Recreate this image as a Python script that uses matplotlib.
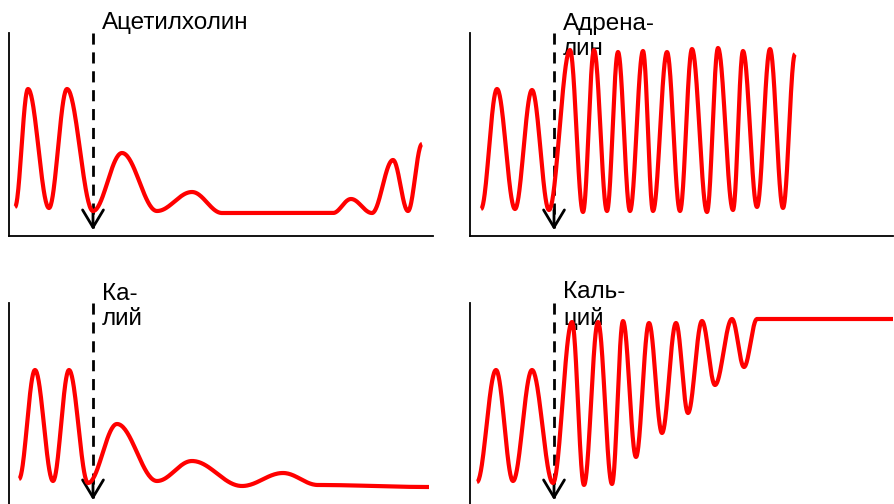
import numpy as np
import matplotlib
matplotlib.use('Agg')
import matplotlib.pyplot as plt

plt.rcParams['font.family'] = ['Liberation Sans', 'DejaVu Sans']

# extrema of each trace: time (px from the y axis) and amplitude (px above the x axis)
ach_t = [6, 19, 40, 58, 84, 113, 148, 183, 213, 324, 342, 363, 384, 399, 413]
ach_y = [29, 147, 28, 147, 25, 83, 25, 44, 23, 23, 37, 23, 76, 25, 92]

adr_t = [11, 27, 45, 62, 79, 100, 113, 124, 137, 148, 160, 173, 183, 197, 210,
         222, 237, 248, 263, 273, 287, 300, 313, 325]
adr_y = [27, 147, 27, 146, 26, 186, 24, 186, 25, 184, 25, 185, 25, 184, 25,
         187, 24, 188, 26, 185, 29, 187, 28, 182]

k_t = [10, 26, 44, 60, 79, 108, 148, 183, 233, 274, 309, 420]
k_y = [27, 136, 25, 136, 23, 82, 25, 45, 20, 33, 21, 19]

ca_t = [7, 26, 43, 62, 83, 102, 114, 128, 142, 153, 166, 179, 192, 206, 218,
        232, 245, 262, 274, 287, 423]
ca_y = [24, 136, 25, 136, 23, 184, 21, 184, 22, 185, 49, 183, 73, 183, 93,
        185, 121, 187, 139, 187, 187]

labels = ['Ацетилхолин', 'Адрена-\nлин', 'Ка-\nлий', 'Каль-\nций']
drug_time = 84  # moment of application, px from the y axis


def smooth_trace(t, y, n=40):
    # half-cosine segments between successive extrema
    xs, ys = [], []
    for i in range(len(t) - 1):
        s = np.linspace(0, 1, n)
        w = (1 - np.cos(np.pi * s)) / 2
        xs.append(t[i] + (t[i + 1] - t[i]) * s)
        ys.append(y[i] + (y[i + 1] - y[i]) * w)
    return np.concatenate(xs), np.concatenate(ys)


W, H = 894, 504
fig = plt.figure(figsize=(W / 100, H / 100), dpi=100)

# panel boxes in pixels: left, bottom (from top), width, height
boxes = [(9, 236, 424, 203), (470, 236, 423, 203),
         (9, 506, 424, 203), (470, 506, 423, 203)]
traces = [(ach_t, ach_y), (adr_t, adr_y), (k_t, k_y), (ca_t, ca_y)]

for (lx, by, w, h), (t, y), lab in zip(boxes, traces, labels):
    ax = fig.add_axes([lx / W, (H - by) / H, w / W, h / H])
    ax.set_xlim(0, w)
    ax.set_ylim(0, h)
    for side in ['top', 'right']:
        ax.spines[side].set_visible(False)
    ax.spines['left'].set_linewidth(1.3)
    ax.spines['bottom'].set_linewidth(1.3)
    ax.set_xticks([])
    ax.set_yticks([])
    ax.patch.set_alpha(0)

    tip = 6
    ax.plot([drug_time, drug_time], [h, tip + 2], color='black', lw=2,
            dashes=(4, 2.8), zorder=2, clip_on=False)
    ax.annotate('', xy=(drug_time, tip), xytext=(drug_time, tip + 20),
                arrowprops=dict(arrowstyle='->,head_length=1.25,head_width=0.75',
                                lw=2, color='black', mutation_scale=10,
                                shrinkA=0, shrinkB=0), zorder=2)

    xs, ys = smooth_trace(t, y)
    ax.plot(xs, ys, color='#ff0000', lw=3, solid_capstyle='butt', zorder=4,
            clip_on=False)

    # baseline of the first line sits just above the axis top; 26 px per line
    nlines = lab.count('\n') + 1
    y_text = h + 4 - 26 * (nlines - 1)
    ax.text(drug_time + 9, y_text, lab, fontsize=17.5, ha='left', va='baseline',
            linespacing=1.2, zorder=3, clip_on=False)

fig.savefig('out.png', dpi=100)
